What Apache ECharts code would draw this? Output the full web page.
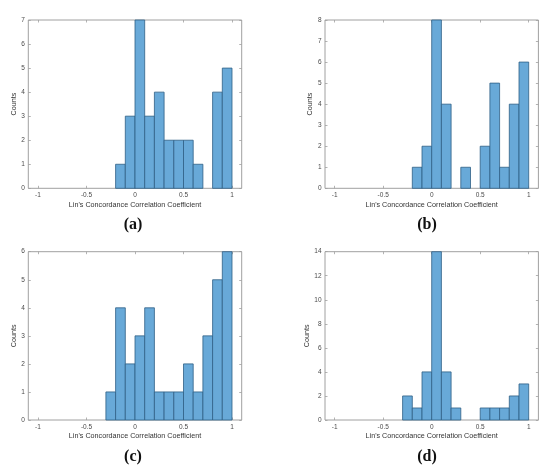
<!DOCTYPE html>
<html><head><meta charset="utf-8">
<script src="https://cdn.jsdelivr.net/npm/echarts@6/dist/echarts.min.js"></script>
<style>html,body{margin:0;padding:0;background:#fff}#c{width:550px;height:473px}</style>
</head><body><div id="c"></div>
<script>
// Histogram bin starts (bin width 0.1)
const binStarts = [-0.3,-0.2,-0.1,0,0.1,0.2,0.3,0.4,0.5,0.6,0.7,0.8,0.9];
const binWidth = 0.1;
const countsA = [0,1,3,7,3,4,2,2,2,1,0,4,5];
const countsB = [0,1,2,8,4,0,1,0,2,5,1,4,6];
const countsC = [1,4,2,3,4,1,1,1,2,1,3,5,6];
const countsD = [2,1,4,14,4,1,0,0,1,1,1,2,3];
const xTicks = [-1,-0.5,0,0.5,1];
const yMaxes = [7,8,6,14];
const yIntervals = [1,1,1,2];
const captions = ['(a)','(b)','(c)','(d)'];
const xName = "Lin's Concordance Correlation Coefficient";
const yName = 'Counts';

const allCounts = [countsA,countsB,countsC,countsD];
const gridPos = [
  {left:28.3, top:20, width:213.4, height:168.3},
  {left:325, top:20, width:213.4, height:168.3},
  {left:28.3, top:251.7, width:213.4, height:168.3},
  {left:325, top:251.7, width:213.4, height:168.3}
];
const capPos = [[133,225],[427,225],[133,457],[427,457]];

const axisGray = '#a0a0a0';
const labelGray = '#4a4a4a';
const font = 'Liberation Sans';

const grid=[], xAxis=[], yAxis=[], series=[], graphic=[];
gridPos.forEach((g,i)=>{
  grid.push(Object.assign({show:true, borderColor:axisGray, borderWidth:1, backgroundColor:'#fff'}, g));
  const yTicks=[]; for(let v=0; v<=yMaxes[i]; v+=yIntervals[i]) yTicks.push(v);
  const tick = (vals)=>({show:true, inside:true, length:2.5, customValues:vals, lineStyle:{color:axisGray, width:0.8}});
  xAxis.push({type:'value', gridIndex:i, position:'bottom', min:-1.1, max:1.1,
    axisLine:{show:false, onZero:false}, splitLine:{show:false},
    axisTick:tick(xTicks),
    axisLabel:{customValues:xTicks, margin:3.5, fontSize:6.5, color:labelGray, fontFamily:font},
    name:xName, nameLocation:'middle', nameGap:13, nameTextStyle:{fontSize:7.2, color:'#333', fontFamily:font}});
  xAxis.push({type:'value', gridIndex:i, position:'top', min:-1.1, max:1.1,
    axisLine:{show:false, onZero:false}, splitLine:{show:false},
    axisTick:tick(xTicks), axisLabel:{show:false}});
  yAxis.push({type:'value', gridIndex:i, position:'left', min:0, max:yMaxes[i],
    axisLine:{show:false, onZero:false}, splitLine:{show:false},
    axisTick:tick(yTicks),
    axisLabel:{customValues:yTicks, margin:3.5, fontSize:6.5, color:labelGray, fontFamily:font},
    name:yName, nameLocation:'middle', nameGap:10, nameTextStyle:{fontSize:7.2, color:'#333', fontFamily:font}});
  yAxis.push({type:'value', gridIndex:i, position:'right', min:0, max:yMaxes[i],
    axisLine:{show:false, onZero:false}, splitLine:{show:false},
    axisTick:tick(yTicks), axisLabel:{show:false}});
  const data = [];
  binStarts.forEach((s,k)=>{ if(allCounts[i][k]>0) data.push([s, +(s+binWidth).toFixed(2), allCounts[i][k]]); });
  series.push({type:'custom', xAxisIndex:2*i, yAxisIndex:2*i, data:data,
    encode:{x:[0,1], y:2}, z:1,
    renderItem:function(params, api){
      const p0 = api.coord([api.value(0), api.value(2)]);
      const p1 = api.coord([api.value(1), 0]);
      return {type:'rect', shape:{x:p0[0], y:p0[1], width:p1[0]-p0[0], height:p1[1]-p0[1]},
        style:{fill:'#68a9d8', stroke:'#2f5f85', lineWidth:0.8}};
    }});
  graphic.push({type:'text', x:capPos[i][0], y:capPos[i][1],
    style:{text:captions[i], font:'bold 16px "Liberation Serif"', fill:'#111', textAlign:'center', textVerticalAlign:'middle'}});
});

const chart = echarts.init(document.getElementById('c'), null, {renderer:'canvas'});
chart.setOption({animation:false, backgroundColor:'#fff', grid, xAxis, yAxis, series, graphic});
</script></body></html>
